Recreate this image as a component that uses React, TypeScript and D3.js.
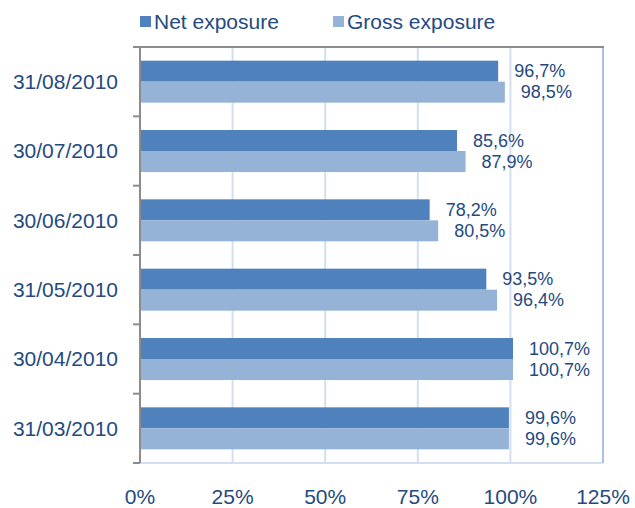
import React, { useEffect, useRef } from 'react';
import * as d3 from 'd3';

const dates = ['31/08/2010', '30/07/2010', '30/06/2010', '31/05/2010', '30/04/2010', '31/03/2010'];
const netExposure = [96.7, 85.6, 78.2, 93.5, 100.7, 99.6];
const grossExposure = [98.5, 87.9, 80.5, 96.4, 100.7, 99.6];
const xTicks = [0, 25, 50, 75, 100, 125];
const seriesNames = ['Net exposure', 'Gross exposure'];
const seriesColors = ['#4f81bd', '#95b3d7'];

const textColor = '#244a80';
const fmt = (v: number) => v.toFixed(1).replace('.', ',') + '%';

export default function App() {
  const ref = useRef<SVGSVGElement>(null);

  useEffect(() => {
    const width = 635, height = 508;
    const margin = { top: 47, right: 32, bottom: 45, left: 140 };

    const svg = d3.select(ref.current);
    svg.selectAll('*').remove();
    svg.attr('width', width).attr('height', height)
      .style('font-family', '"Liberation Sans", Arial, sans-serif');

    const x = d3.scaleLinear()
      .domain([0, 125])
      .range([margin.left, width - margin.right]);

    const y = d3.scaleBand()
      .domain(dates)
      .range([margin.top, height - margin.bottom]);

    const barH = 21;

    // gridlines
    svg.append('g')
      .selectAll('line')
      .data(xTicks.slice(1, -1))
      .enter()
      .append('line')
      .attr('x1', (d) => x(d)).attr('x2', (d) => x(d))
      .attr('y1', margin.top).attr('y2', height - margin.bottom)
      .attr('stroke', '#d3dfee')
      .attr('stroke-width', 2);

    // bottom + right border (light)
    svg.append('line')
      .attr('x1', x(0)).attr('x2', x(125))
      .attr('y1', height - margin.bottom).attr('y2', height - margin.bottom)
      .attr('stroke', '#d3dfee').attr('stroke-width', 2);
    svg.append('line')
      .attr('x1', x(125)).attr('x2', x(125))
      .attr('y1', margin.top).attr('y2', height - margin.bottom)
      .attr('stroke', '#a9c2e2').attr('stroke-width', 2);

    // top border
    svg.append('line')
      .attr('x1', x(0)).attr('x2', x(125) + 1)
      .attr('y1', margin.top).attr('y2', margin.top)
      .attr('stroke', '#8c8c8c').attr('stroke-width', 2);

    // bars
    const chart = svg.append('g');
    dates.forEach((d, i) => {
      const cy = (y(d) as number) + y.bandwidth() / 2;
      const vals = [netExposure[i], grossExposure[i]];
      vals.forEach((v, j) => {
        const top = j === 0 ? cy - barH : cy;
        chart.append('rect')
          .attr('x', x(0))
          .attr('y', top)
          .attr('width', x(v) - x(0))
          .attr('height', barH)
          .attr('fill', seriesColors[j]);
        chart.append('text')
          .attr('x', x(v) + 16)
          .attr('y', top + barH / 2)
          .attr('dy', '0.35em')
          .attr('fill', textColor)
          .style('font-size', '18px')
          .text(fmt(v));
      });
      chart.append('text')
        .attr('x', 118)
        .attr('y', cy)
        .attr('dy', '0.35em')
        .attr('text-anchor', 'end')
        .attr('fill', textColor)
        .style('font-size', '21px')
        .text(d);
    });

    // left axis with ticks at band boundaries
    const bounds = dates.map((d) => y(d) as number).concat([height - margin.bottom]);
    svg.append('line')
      .attr('x1', x(0)).attr('x2', x(0))
      .attr('y1', margin.top).attr('y2', height - margin.bottom)
      .attr('stroke', '#8c8c8c').attr('stroke-width', 2);
    svg.append('g')
      .selectAll('line')
      .data(bounds)
      .enter()
      .append('line')
      .attr('x1', x(0) - 7).attr('x2', x(0))
      .attr('y1', (d) => d).attr('y2', (d) => d)
      .attr('stroke', '#8c8c8c').attr('stroke-width', 2);

    // x tick labels
    svg.append('g')
      .selectAll('text')
      .data(xTicks)
      .enter()
      .append('text')
      .attr('x', (d) => x(d))
      .attr('y', 497)
      .attr('dy', '0.35em')
      .attr('text-anchor', 'middle')
      .attr('fill', textColor)
      .style('font-size', '21px')
      .text((d) => d + '%');

    // legend
    const legendX = [140, 333];
    seriesNames.forEach((name, i) => {
      const g = svg.append('g').attr('transform', `translate(${legendX[i]},22)`);
      g.append('rect')
        .attr('x', 0).attr('y', -6)
        .attr('width', 11).attr('height', 11)
        .attr('fill', seriesColors[i]);
      g.append('text')
        .attr('x', 14)
        .attr('y', 0)
        .attr('dy', '0.35em')
        .attr('fill', textColor)
        .style('font-size', '21px')
        .text(name);
    });
  }, []);

  return <svg ref={ref} style={{ display: 'block', position: 'absolute', left: 0, top: 0 }} />;
}
